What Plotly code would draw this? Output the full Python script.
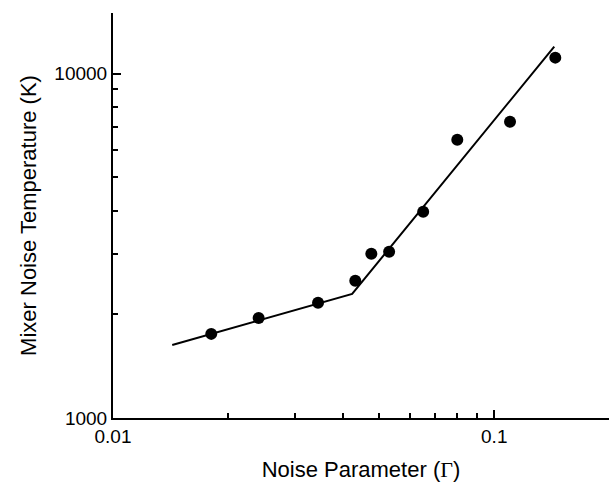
import plotly.graph_objects as go
import numpy as np

# data points
gamma = [0.0181, 0.0241, 0.0345, 0.0432, 0.0476, 0.0530, 0.0651, 0.0800, 0.1100, 0.1446]
temp = [1755, 1953, 2160, 2503, 2997, 3040, 3970, 6430, 7250, 11130]

# fitted piecewise line
fit_x = [0.0143, 0.0424, 0.1437]
fit_y = [1630, 2293, 11980]

x_major = [0.01, 0.1]
x_major_text = ["0.01", "0.1"]
x_minor = [0.02, 0.03, 0.04, 0.05, 0.06, 0.07, 0.08, 0.09, 0.2]
y_major = [1000, 10000]
y_major_text = ["1000", "10000"]
y_minor = [2000, 3000, 4000, 5000, 6000, 7000, 8000, 9000]

font = "Liberation Sans, Arial, sans-serif"

fig = go.Figure()
fig.add_trace(go.Scatter(x=fit_x, y=fit_y, mode="lines",
                         line=dict(color="black", width=2), showlegend=False))
fig.add_trace(go.Scatter(x=gamma, y=temp, mode="markers",
                         marker=dict(color="black", size=12), showlegend=False))

axis_common = dict(
    type="log", showgrid=False, zeroline=False, showline=True,
    linecolor="black", linewidth=2, ticks="inside", ticklen=8, tickwidth=2,
    tickcolor="black", tickfont=dict(family=font, size=19, color="black"),
    title_font=dict(family=font, size=22, color="black"),
    mirror=False,
)

fig.update_xaxes(
    **axis_common,
    range=[np.log10(0.01), np.log10(0.2)],
    tickmode="array", tickvals=x_major, ticktext=x_major_text,
    minor=dict(tickvals=x_minor, ticks="inside", ticklen=5, tickwidth=2, tickcolor="black"),
    title_text='Noise Parameter (<span style="font-family:Liberation Serif">Γ</span>)',
    title_standoff=16,
)
fig.update_yaxes(
    **axis_common,
    range=[3, np.log10(15000)],
    tickmode="array", tickvals=y_major, ticktext=y_major_text,
    minor=dict(tickvals=y_minor, ticks="inside", ticklen=5, tickwidth=2, tickcolor="black"),
    title_text="Mixer Noise Temperature (K)", title_standoff=12,
)

fig.update_layout(
    width=609, height=489,
    margin=dict(l=113, r=0, t=13, b=71, pad=0),
    plot_bgcolor="white", paper_bgcolor="white",
    font=dict(family=font, color="black"),
)

fig.write_html("out.html")
